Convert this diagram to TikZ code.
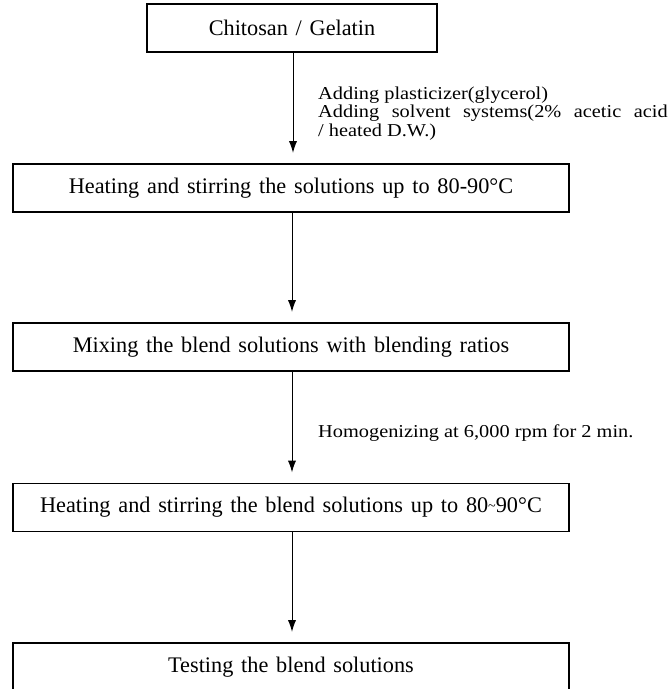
\documentclass[tikz,border=0pt]{standalone}
\usepackage{fontspec}
\setmainfont{Liberation Serif}
\newfontfamily\widefam[FakeStretch=1.12]{Liberation Serif}
\usetikzlibrary{positioning,arrows.meta}

\newcommand{\celsius}{°C}
\newcommand{\boxfont}{\fontsize{19}{23}\selectfont\spaceskip=0.35em\relax}
\newcommand{\notefont}{\widefam\fontsize{15.5}{15.5}\selectfont\spaceskip=0.28em\relax}

\begin{document}
\begin{tikzpicture}[x=0.03cm, y=-0.03cm,
    >={Latex[length=10pt,width=7pt]},
    box/.style={draw, line width=1.1pt, minimum height=1.44cm, inner sep=0pt, font=\boxfont},
    wide/.style={box, minimum width=16.68cm},
    flow/.style={->, line width=0.8pt, shorten >=9pt},
    note/.style={align=left, inner sep=0pt, font=\notefont}]
    \useasboundingbox (0,0) rectangle (672,689);
    \node[box, minimum width=8.7cm] (raw) at (292,28) {Chitosan / Gelatin};
    \node[wide] (heat_0) at (291,188) {Heating and stirring the solutions up to 80-90\celsius};
    \node[wide] (mix) at (291,347) {Mixing the blend solutions with blending ratios};
    \node[wide] (heat_1) at (291,507.5) {Heating and stirring the blend solutions up to 80\raisebox{0.2ex}{\fontsize{12}{12}\selectfont\textasciitilde}90\celsius};
    \node[wide] (test) at (291,667) {Testing the blend solutions};
    \draw[flow] (raw.south -| 293,0) -- (heat_0.north -| 293,0);
    \draw[flow] (heat_0.south -| 292,0) -- (mix.north -| 292,0);
    \draw[flow] (mix.south -| 292,0) -- (heat_1.north -| 292,0);
    \draw[flow] (heat_1.south -| 292,0) -- (test.north -| 292,0);
    \node[note, anchor=north west] (solvent) at (318,87)
        {Adding plasticizer(glycerol)\\
         {\spaceskip=0.69em\relax Adding solvent systems(2\% acetic acid}\\
         / heated D.W.)};
    \node[note, anchor=west] (homog) at (318,433) {Homogenizing at 6,000 rpm for 2 min.};
\end{tikzpicture}
\end{document}
